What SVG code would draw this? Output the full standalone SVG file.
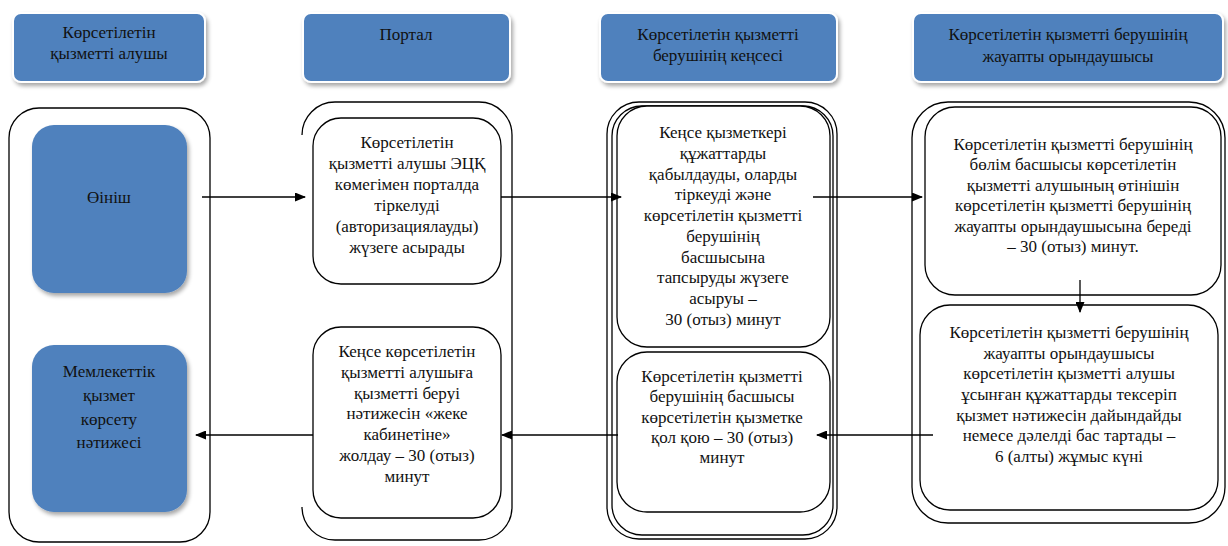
<svg xmlns="http://www.w3.org/2000/svg" width="1228" height="546" viewBox="0 0 1228 546">
<defs>
<filter id="sh" x="-10%" y="-10%" width="125%" height="130%">
<feGaussianBlur in="SourceAlpha" stdDeviation="2"/>
<feOffset dx="2" dy="3"/>
<feComponentTransfer><feFuncA type="linear" slope="0.35"/></feComponentTransfer>
<feMerge><feMergeNode/><feMergeNode in="SourceGraphic"/></feMerge>
</filter>
<marker id="ah" markerWidth="11" markerHeight="9" refX="10" refY="4.5" orient="auto" markerUnits="userSpaceOnUse">
<path d="M0,0 L11,4.5 L0,9 z" fill="#000"/>
</marker>
</defs>
<style>
text{font-family:'Liberation Serif','DejaVu Serif',serif;font-size:17px;text-anchor:middle;fill:#111}
.hdr{fill:#4F81BD;stroke:#ffffff;stroke-width:2;filter:url(#sh)}
.blue{fill:#4F81BD;filter:url(#sh)}
.ln{fill:none;stroke:#000;stroke-width:1.3}
.box{fill:#fff;stroke:#000;stroke-width:1.3}
.cn{fill:none;stroke:#000;stroke-width:1.3;marker-end:url(#ah)}
</style>
<rect width="1228" height="546" fill="#fff"/>
<g id="header1"><rect class="hdr" x="13" y="13" width="192" height="69" rx="8"/>
<text x="109" y="38">Көрсетілетін</text><text x="109" y="59">қызметті алушы</text></g>
<g id="header2"><rect class="hdr" x="303" y="13" width="207" height="69" rx="8"/>
<text x="406" y="40">Портал</text></g>
<g id="header3"><rect class="hdr" x="600" y="13" width="237" height="69" rx="8"/>
<text x="718" y="40">Көрсетілетін қызметті</text><text x="718" y="61">берушінің кеңсесі</text></g>
<g id="header4"><rect class="hdr" x="913" y="13" width="310" height="69" rx="8"/>
<text x="1068" y="40">Көрсетілетін қызметті берушінің</text><text x="1068" y="62">жауапты орындаушысы</text></g>

<g id="lane1"><rect class="ln" x="9" y="108" width="201" height="434" rx="30"/></g>
<g id="lane2"><path class="ln" d="M302,135 A33,33 0 0 1 335,102 H479 A33,33 0 0 1 512,135 V507 A33,33 0 0 1 479,540 H335 A33,33 0 0 1 302,507"/></g>
<g id="lane3"><rect class="ln" x="607" y="102" width="230" height="437" rx="32"/><rect class="ln" x="612" y="106" width="221" height="429" rx="30"/></g>
<g id="lane4"><rect class="ln" x="912" y="102" width="313" height="421" rx="36"/></g>

<g id="applicant"><rect class="blue" x="32" y="125" width="155" height="168" rx="22"/>
<text x="109" y="203">Өініш</text></g>
<g id="result"><rect class="blue" x="32" y="345" width="155" height="167" rx="22"/>
<text x="109" y="377">Мемлекеттік</text><text x="109" y="401">қызмет</text><text x="109" y="425">көрсету</text><text x="109" y="448">нәтижесі</text></g>

<g id="portal-register"><rect class="box" x="313" y="118" width="188" height="166" rx="28"/>
<text x="407" y="148">Көрсетілетін</text><text x="407" y="169">қызметті алушы ЭЦҚ</text><text x="407" y="190">көмегімен порталда</text><text x="407" y="211">тіркелуді</text><text x="407" y="232">(авторизациялауды)</text><text x="407" y="253">жүзеге асырады</text></g>
<g id="portal-send"><rect class="box" x="313" y="327" width="188" height="191" rx="28"/>
<text x="407" y="357">Кеңсе көрсетілетін</text><text x="407" y="378">қызметті алушыға</text><text x="407" y="399">қызметті беруі</text><text x="407" y="419">нәтижесін «жеке</text><text x="407" y="440">кабинетіне»</text><text x="407" y="461">жолдау – 30 (отыз)</text><text x="407" y="482">минут</text></g>

<g id="office-accept"><rect class="box" x="617" y="106" width="213" height="241" rx="30"/>
<text x="723" y="138">Кеңсе қызметкері</text><text x="723" y="159">құжаттарды</text><text x="723" y="180">қабылдауды, оларды</text><text x="723" y="200">тіркеуді және</text><text x="723" y="221">көрсетілетін қызметті</text><text x="723" y="242">берушінің</text><text x="723" y="263">басшысына</text><text x="723" y="283">тапсыруды жүзеге</text><text x="723" y="304">асыруы –</text><text x="723" y="325">30 (отыз) минут</text></g>
<g id="head-sign"><rect class="box" x="617" y="352" width="213" height="160" rx="30"/>
<text x="722" y="382">Көрсетілетін қызметті</text><text x="722" y="402">берушінің басшысы</text><text x="722" y="423">көрсетілетін қызметке</text><text x="722" y="443">қол қою – 30 (отыз)</text><text x="722" y="463">минут</text></g>

<g id="dept-head"><rect class="box" x="925" y="107" width="296" height="188" rx="30"/>
<text x="1073" y="150">Көрсетілетін қызметті берушінің</text><text x="1073" y="170">бөлім басшысы көрсетілетін</text><text x="1073" y="191">қызметті алушының өтінішін</text><text x="1073" y="211">көрсетілетін қызметті берушінің</text><text x="1073" y="232">жауапты орындаушысына береді</text><text x="1073" y="252">– 30 (отыз) минут.</text></g>
<g id="executor"><rect class="box" x="920" y="305" width="298" height="205" rx="30"/>
<text x="1069" y="338">Көрсетілетін қызметті берушінің</text><text x="1069" y="359">жауапты орындаушысы</text><text x="1069" y="379">көрсетілетін қызметті алушы</text><text x="1069" y="400">ұсынған құжаттарды тексеріп</text><text x="1069" y="421">қызмет нәтижесін дайындайды</text><text x="1069" y="441">немесе дәлелді бас тартады –</text><text x="1069" y="462">6 (алты) жұмыс күні</text></g>

<g id="connectors">
<path class="cn" d="M202,197 H305"/>
<path class="cn" d="M501,197 H621"/>
<path class="cn" d="M813,197 H922"/>
<path class="cn" d="M1080,280 V312"/>
<path class="cn" d="M933,435 H817"/>
<path class="cn" d="M618,435 H502"/>
<path class="cn" d="M313,435 H196"/>
</g>
</svg>
